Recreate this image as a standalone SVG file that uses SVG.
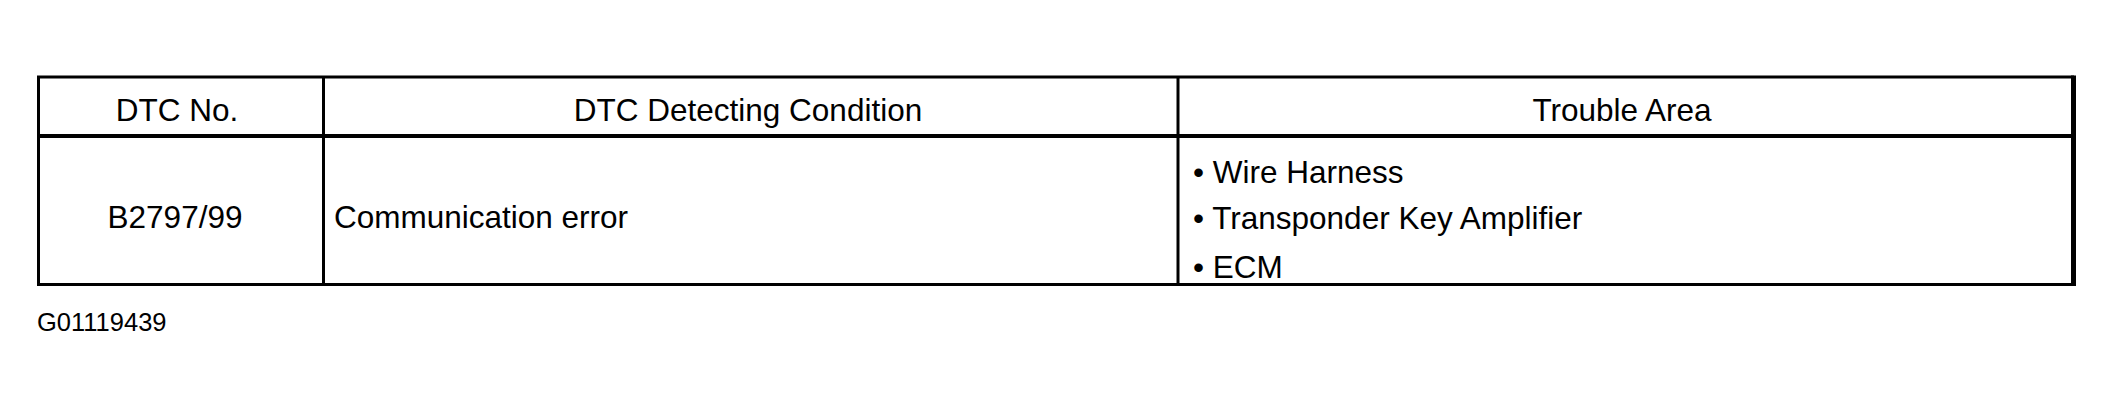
<svg xmlns="http://www.w3.org/2000/svg" width="2114" height="406" viewBox="0 0 2114 406">
  <style>
    .t { font-family: "Liberation Sans", Arial, sans-serif; font-size: 31.5px; fill: #000; }
    .c { text-anchor: middle; }
    .ln { stroke: #000; fill: none; }
  </style>
  <rect x="0" y="0" width="2114" height="406" fill="#fff"/>
  <g id="grid">
    <rect class="ln" x="38.5" y="77" width="2034" height="207.5" stroke-width="3"/>
    <line class="ln" x1="2073.5" y1="75.5" x2="2073.5" y2="286" stroke-width="5"/>
    <line class="ln" x1="38" y1="136" x2="2075" y2="136" stroke-width="4"/>
    <line class="ln" x1="323.5" y1="77" x2="323.5" y2="285" stroke-width="3"/>
    <line class="ln" x1="1178" y1="77" x2="1178" y2="285" stroke-width="3"/>
  </g>
  <g id="header-dtc-no">
    <text class="t c" x="177" y="121">DTC No.</text>
  </g>
  <g id="header-condition">
    <text class="t c" x="748" y="121">DTC Detecting Condition</text>
  </g>
  <g id="header-trouble-area">
    <text class="t c" x="1622" y="121">Trouble Area</text>
  </g>
  <g id="cell-dtc-no">
    <text class="t c" x="175" y="228">B2797/99</text>
  </g>
  <g id="cell-condition">
    <text class="t" x="334" y="228">Communication error</text>
  </g>
  <g id="cell-trouble-area">
    <text class="t" x="1193" y="183">• Wire Harness</text>
    <text class="t" x="1193" y="229">• Transponder Key Amplifier</text>
    <text class="t" x="1193" y="278">• ECM</text>
  </g>
  <g id="figure-code">
    <text class="t" x="37" y="331" style="font-size:25.5px">G01119439</text>
  </g>
</svg>
